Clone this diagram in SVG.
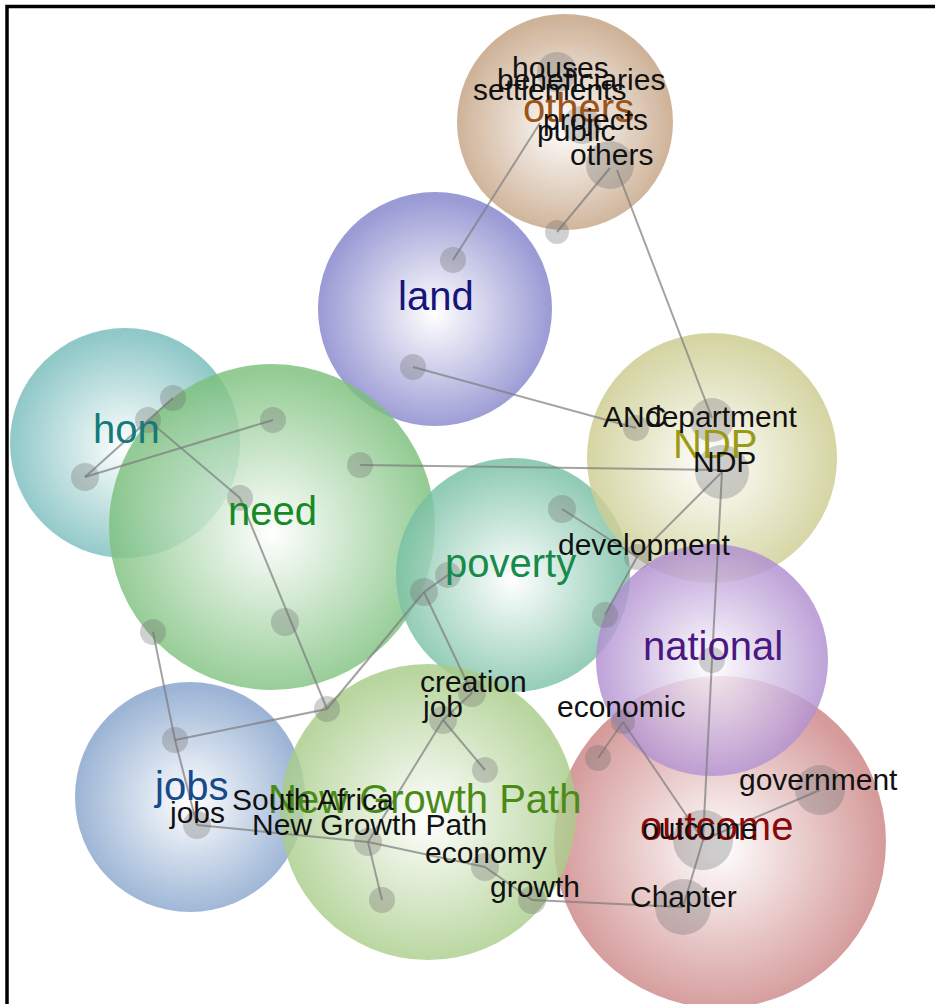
<svg xmlns="http://www.w3.org/2000/svg" width="935" height="1004" viewBox="0 0 935 1004">
<defs>
<radialGradient id="gOthers" cx="50%" cy="52%" r="50%"><stop offset="0" stop-color="#ffffff"/><stop offset="1" stop-color="#c4a282"/></radialGradient>
<radialGradient id="gLand" cx="50%" cy="52%" r="50%"><stop offset="0" stop-color="#ffffff"/><stop offset="1" stop-color="#8484cc"/></radialGradient>
<radialGradient id="gHon" cx="50%" cy="52%" r="50%"><stop offset="0" stop-color="#ffffff"/><stop offset="1" stop-color="#78bcbc"/></radialGradient>
<radialGradient id="gNeed" cx="50%" cy="52%" r="50%"><stop offset="0" stop-color="#ffffff"/><stop offset="1" stop-color="#7cc07c"/></radialGradient>
<radialGradient id="gPov" cx="50%" cy="52%" r="50%"><stop offset="0" stop-color="#ffffff"/><stop offset="1" stop-color="#78c0a4"/></radialGradient>
<radialGradient id="gNDP" cx="50%" cy="52%" r="50%"><stop offset="0" stop-color="#ffffff"/><stop offset="1" stop-color="#cccc90"/></radialGradient>
<radialGradient id="gNat" cx="50%" cy="52%" r="50%"><stop offset="0" stop-color="#ffffff"/><stop offset="1" stop-color="#b08ed0"/></radialGradient>
<radialGradient id="gOut" cx="50%" cy="52%" r="50%"><stop offset="0" stop-color="#ffffff"/><stop offset="1" stop-color="#cc8484"/></radialGradient>
<radialGradient id="gJobs" cx="50%" cy="52%" r="50%"><stop offset="0" stop-color="#ffffff"/><stop offset="1" stop-color="#86a4cc"/></radialGradient>
<radialGradient id="gNGP" cx="50%" cy="52%" r="50%"><stop offset="0" stop-color="#ffffff"/><stop offset="1" stop-color="#a8cc88"/></radialGradient>
</defs>
<style>
.cl{fill-opacity:0.82}
.nd{fill:#6e6e6e;fill-opacity:0.32}
.ln{stroke:#7c7c7c;stroke-opacity:0.7;stroke-width:2;fill:none}
.w{font-family:"Liberation Sans",Arial,sans-serif;font-size:30px;fill:#111}
.big{font-family:"Liberation Sans",Arial,sans-serif;font-size:40px}
</style>
<rect x="0" y="0" width="935" height="1004" fill="#ffffff"/>
<path d="M7,1004 V6.5 H935" fill="none" stroke="#000" stroke-width="3.5"/>

<g id="cluster-others"><circle class="cl" cx="565" cy="122" r="108" fill="url(#gOthers)"/></g>
<g id="cluster-land"><circle class="cl" cx="435" cy="309" r="117" fill="url(#gLand)"/></g>
<g id="cluster-hon"><circle class="cl" cx="125" cy="443" r="115" fill="url(#gHon)"/></g>
<g id="cluster-need"><circle class="cl" cx="272" cy="527" r="163" fill="url(#gNeed)"/></g>
<g id="cluster-poverty"><circle class="cl" cx="513" cy="575" r="117" fill="url(#gPov)"/></g>
<g id="cluster-NDP"><circle class="cl" cx="712" cy="458" r="125" fill="url(#gNDP)"/></g>
<g id="cluster-outcome"><circle class="cl" cx="720" cy="842" r="166" fill="url(#gOut)"/></g>
<g id="cluster-national"><circle class="cl" cx="712" cy="660" r="116" fill="url(#gNat)"/></g>
<g id="cluster-jobs"><circle class="cl" cx="190" cy="797" r="115" fill="url(#gJobs)"/></g>
<g id="cluster-NGP"><circle class="cl" cx="428" cy="812" r="148" fill="url(#gNGP)"/></g>

<g id="connectors">
<line class="ln" x1="453" y1="260" x2="540" y2="123"/>
<line class="ln" x1="557" y1="232" x2="610" y2="168"/>
<line class="ln" x1="617" y1="170" x2="712" y2="418"/>
<line class="ln" x1="413" y1="367" x2="636" y2="428"/>
<line class="ln" x1="360" y1="465" x2="722" y2="470"/>
<line class="ln" x1="722" y1="472" x2="637" y2="557"/>
<line class="ln" x1="637" y1="557" x2="605" y2="615"/>
<line class="ln" x1="562" y1="509" x2="637" y2="557"/>
<line class="ln" x1="722" y1="472" x2="712" y2="660"/>
<line class="ln" x1="712" y1="660" x2="703" y2="840"/>
<line class="ln" x1="623" y1="722" x2="598" y2="758"/>
<line class="ln" x1="623" y1="722" x2="703" y2="840"/>
<line class="ln" x1="703" y1="840" x2="820" y2="790"/>
<line class="ln" x1="703" y1="840" x2="683" y2="907"/>
<line class="ln" x1="532" y1="900" x2="683" y2="907"/>
<line class="ln" x1="485" y1="867" x2="532" y2="900"/>
<line class="ln" x1="368" y1="842" x2="485" y2="867"/>
<line class="ln" x1="368" y1="842" x2="382" y2="900"/>
<line class="ln" x1="368" y1="842" x2="443" y2="720"/>
<line class="ln" x1="443" y1="720" x2="485" y2="770"/>
<line class="ln" x1="443" y1="720" x2="472" y2="693"/>
<line class="ln" x1="197" y1="825" x2="368" y2="842"/>
<line class="ln" x1="175" y1="740" x2="197" y2="825"/>
<line class="ln" x1="175" y1="740" x2="327" y2="709"/>
<line class="ln" x1="153" y1="632" x2="175" y2="740"/>
<line class="ln" x1="327" y1="709" x2="424" y2="592"/>
<line class="ln" x1="424" y1="592" x2="448" y2="575"/>
<line class="ln" x1="424" y1="592" x2="472" y2="693"/>
<line class="ln" x1="240" y1="498" x2="327" y2="709"/>
<line class="ln" x1="148" y1="420" x2="240" y2="498"/>
<line class="ln" x1="85" y1="477" x2="273" y2="420"/>
<line class="ln" x1="85" y1="477" x2="173" y2="398"/>
</g>

<g id="nodes">
<circle class="nd" cx="557" cy="72" r="20"/>
<circle class="nd" cx="582" cy="125" r="19"/>
<circle class="nd" cx="610" cy="165" r="24"/>
<circle class="nd" cx="557" cy="232" r="12"/>
<circle class="nd" cx="453" cy="260" r="13"/>
<circle class="nd" cx="413" cy="367" r="13"/>
<circle class="nd" cx="173" cy="398" r="13"/>
<circle class="nd" cx="148" cy="420" r="13"/>
<circle class="nd" cx="85" cy="477" r="14"/>
<circle class="nd" cx="273" cy="420" r="13"/>
<circle class="nd" cx="360" cy="465" r="13"/>
<circle class="nd" cx="240" cy="498" r="13"/>
<circle class="nd" cx="153" cy="632" r="13"/>
<circle class="nd" cx="285" cy="622" r="14"/>
<circle class="nd" cx="562" cy="509" r="14"/>
<circle class="nd" cx="448" cy="575" r="13"/>
<circle class="nd" cx="424" cy="592" r="14"/>
<circle class="nd" cx="605" cy="615" r="13"/>
<circle class="nd" cx="636" cy="428" r="13"/>
<circle class="nd" cx="712" cy="420" r="22"/>
<circle class="nd" cx="722" cy="472" r="27"/>
<circle class="nd" cx="637" cy="557" r="13"/>
<circle class="nd" cx="712" cy="660" r="13"/>
<circle class="nd" cx="623" cy="722" r="12"/>
<circle class="nd" cx="598" cy="758" r="13"/>
<circle class="nd" cx="703" cy="840" r="30"/>
<circle class="nd" cx="820" cy="790" r="25"/>
<circle class="nd" cx="683" cy="907" r="28"/>
<circle class="nd" cx="472" cy="693" r="14"/>
<circle class="nd" cx="443" cy="720" r="14"/>
<circle class="nd" cx="485" cy="770" r="13"/>
<circle class="nd" cx="368" cy="842" r="14"/>
<circle class="nd" cx="382" cy="900" r="13"/>
<circle class="nd" cx="485" cy="867" r="14"/>
<circle class="nd" cx="532" cy="900" r="14"/>
<circle class="nd" cx="327" cy="709" r="13"/>
<circle class="nd" cx="175" cy="740" r="13"/>
<circle class="nd" cx="197" cy="825" r="14"/>
</g>

<g id="labels-big">
<text class="big" x="523" y="122" fill="#9c5418">others</text>
<text class="big" x="398" y="310" fill="#15157a">land</text>
<text class="big" x="93" y="443" fill="#157a7a">hon</text>
<text class="big" x="228" y="525" fill="#178a27">need</text>
<text class="big" x="445" y="577" fill="#178a4c">poverty</text>
<text class="big" x="673" y="458" fill="#9a9a18">NDP</text>
<text class="big" x="643" y="660" fill="#4a1880">national</text>
<text class="big" x="640" y="840" fill="#8a0808">outcome</text>
<text class="big" x="155" y="800" fill="#184a8a">jobs</text>
<text class="big" x="268" y="813" fill="#4a8a18">New Growth Path</text>
</g>

<g id="labels-words">
<text class="w" x="512" y="78">houses</text>
<text class="w" x="497" y="90">beneficiaries</text>
<text class="w" x="473" y="100">settlements</text>
<text class="w" x="543" y="130">projects</text>
<text class="w" x="537" y="141">public</text>
<text class="w" x="570" y="165">others</text>
<text class="w" x="603" y="427">ANC</text>
<text class="w" x="645" y="427">department</text>
<text class="w" x="693" y="472">NDP</text>
<text class="w" x="558" y="555">development</text>
<text class="w" x="557" y="717">economic</text>
<text class="w" x="739" y="790">government</text>
<text class="w" x="642" y="839">outcome</text>
<text class="w" x="630" y="907">Chapter</text>
<text class="w" x="420" y="692">creation</text>
<text class="w" x="423" y="717">job</text>
<text class="w" x="232" y="810">South Africa</text>
<text class="w" x="252" y="835">New Growth Path</text>
<text class="w" x="425" y="863">economy</text>
<text class="w" x="490" y="897">growth</text>
<text class="w" x="170" y="823">jobs</text>
</g>
</svg>
